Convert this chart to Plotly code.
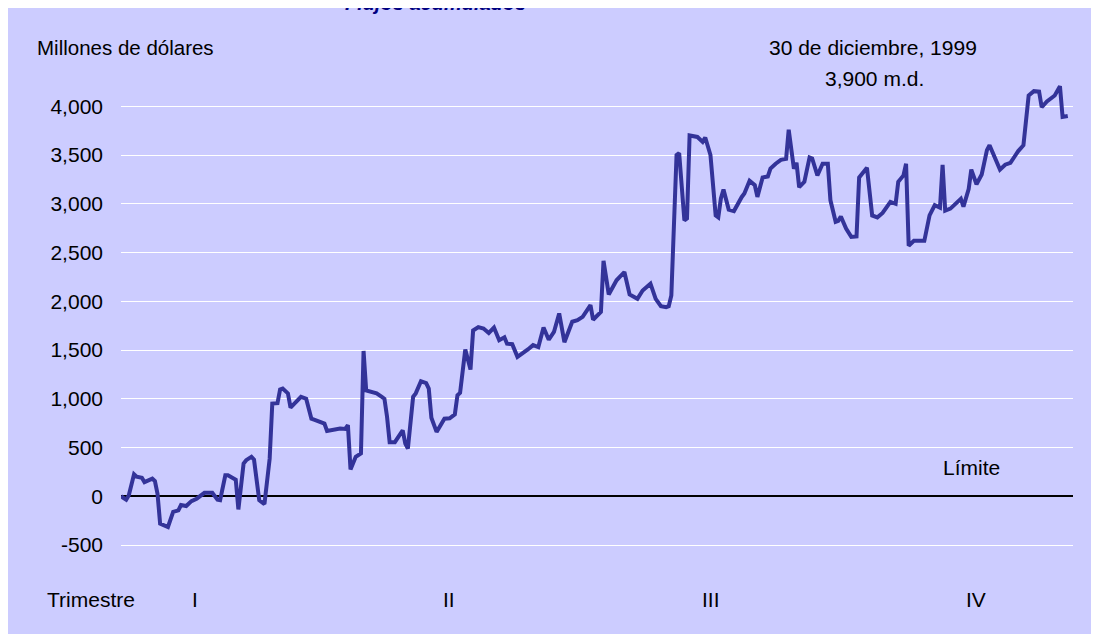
import plotly.graph_objects as go

# dia del año (1999) y saldo acumulado en millones de dolares
dias = [
    0, 2, 3, 5, 6, 8, 9, 12, 13, 14, 15, 18, 20, 22, 23, 25, 27, 29, 32, 35,
    37, 38, 40, 41, 44, 45, 47, 48, 50, 51, 53, 55, 57, 58, 60, 61, 62, 64, 65, 67,
    69, 71, 73, 74, 76, 78, 79, 82, 84, 86, 87, 88, 90, 92, 93, 94, 97, 98, 100, 101,
    102, 103, 105, 106, 108, 109, 110, 112, 113, 115, 117, 118, 119, 121, 122, 124, 126, 128, 129, 130,
    132, 134, 135, 137, 139, 141, 143, 145, 147, 148, 150, 152, 156, 158, 160, 162, 164, 166, 168, 170,
    173, 175, 177, 180, 181, 184, 185, 187, 190, 193, 195, 198, 200, 203, 205, 207, 209, 210, 211, 213,
    214, 216, 217, 218, 221, 223, 224, 226, 228, 229, 230, 231, 233, 235, 238, 239, 241, 243, 244, 246,
    248, 249, 251, 253, 255, 256, 258, 259, 260, 262, 264, 265, 267, 269, 271, 272, 274, 275, 276, 278,
    280, 282, 283, 286, 288, 290, 292, 295, 297, 298, 300, 301, 302, 304, 308, 310, 312, 314, 315, 316,
    318, 320, 322, 323, 325, 326, 328, 330, 332, 333, 336, 337, 339, 341, 343, 344, 346, 348, 350, 352,
    353, 355, 358, 360, 361, 363,
]
saldo = [
    0, -35, 10, 225, 200, 190, 145, 180, 155, 25, -280, -315, -160, -145, -90, -100, -50, -25, 35, 35,
    -35, -40, 215, 215, 170, -135, 335, 370, 405, 375, -40, -80, 385, 950, 955, 1095, 1105, 1055, 910, 965,
    1020, 1000, 795, 785, 760, 745, 670, 685, 695, 690, 730, 275, 405, 440, 1490, 1085, 1070, 1055, 1020, 1000,
    815, 555, 555, 590, 675, 540, 490, 1020, 1055, 1180, 1160, 1105, 805, 660, 710, 795, 800, 840, 1035, 1060,
    1505, 1300, 1700, 1735, 1720, 1675, 1730, 1600, 1630, 1565, 1560, 1430, 1505, 1550, 1530, 1730, 1605, 1685, 1875, 1580,
    1790, 1805, 1840, 1960, 1810, 1890, 2415, 2070, 2215, 2300, 2070, 2025, 2110, 2180, 2025, 1950, 1940, 1950, 2060, 3500,
    3520, 2830, 2850, 3700, 3685, 3635, 3680, 3500, 2880, 2860, 3055, 3145, 2940, 2925, 3070, 3105, 3235, 3190, 3070, 3270,
    3280, 3360, 3410, 3450, 3460, 3760, 3360, 3420, 3170, 3225, 3475, 3465, 3290, 3410, 3410, 3035, 2815, 2825, 2870, 2745,
    2660, 2665, 3270, 3370, 2880, 2860, 2905, 3020, 3000, 3225, 3290, 3410, 2570, 2620, 2620, 2880, 2985, 2960, 3400, 2930,
    2950, 3000, 3050, 2970, 3150, 3350, 3200, 3300, 3550, 3600, 3400, 3350, 3400, 3420, 3500, 3540, 3600, 4110, 4155, 4150,
    3990, 4050, 4110, 4205, 3890, 3900,
]

y_ticks = [-500, 0, 500, 1000, 1500, 2000, 2500, 3000, 3500, 4000]
y_tick_labels = ["-500", "0", "500", "1,000", "1,500", "2,000", "2,500", "3,000", "3,500", "4,000"]
trimestres = ["I", "II", "III", "IV"]
trimestre_x = [0.0777, 0.3445, 0.6197, 0.898]

BG = "#CCCCFF"
LINE = "#333399"
FONT = "Liberation Sans, Arial, sans-serif"

fig = go.Figure(
    go.Scatter(
        x=dias,
        y=saldo,
        mode="lines",
        line=dict(color=LINE, width=4),
        hoverinfo="x+y",
        showlegend=False,
    )
)

txt = dict(family=FONT, size=21, color="black")
notes = [
    dict(text="Millones de dólares", x=-0.0903, y=0.9835, xanchor="left", size=20.5),
    dict(text="30 de diciembre, 1999", x=0.79, y=0.9835, xanchor="center"),
    dict(text="3,900 m.d.", x=0.791, y=0.9267, xanchor="center"),
    dict(text="Límite", x=0.893, y=0.2125, xanchor="center"),
    dict(text="Trimestre", x=-0.0315, y=-0.0293, xanchor="center"),
]
for t, xq in zip(trimestres, trimestre_x):
    notes.append(dict(text=t, x=xq, y=-0.0293, xanchor="center"))
for n in notes:
    f = dict(txt, size=n.pop("size", txt["size"]))
    fig.add_annotation(
        xref="paper", yref="paper", yanchor="middle", showarrow=False, font=f, **n
    )

# titulo cortado en el borde superior, como en el original
fig.add_annotation(
    text="<b><i>Flujos acumulados</i></b>",
    xref="paper", yref="paper", x=0.33, y=1.040,
    xanchor="center", yanchor="bottom", showarrow=False,
    font=dict(family=FONT, size=20, color="#000080"),
)

fig.update_xaxes(
    range=[0, 365], showgrid=False, zeroline=False,
    showticklabels=False, showline=False, fixedrange=True,
)
fig.update_yaxes(
    range=[-900, 4700],
    tickvals=y_ticks, ticktext=y_tick_labels,
    showgrid=True, gridcolor="white", gridwidth=1,
    zeroline=True, zerolinecolor="black", zerolinewidth=2,
    showline=False, ticks="", ticklabelstandoff=17,
    tickfont=dict(family=FONT, size=21, color="black"),
)

# la pagina tiene 8 px de margen en body: la figura ocupa 1091x626
fig.update_layout(
    width=1091, height=626,
    margin=dict(l=113, r=26, t=30, b=50),
    paper_bgcolor=BG,
    plot_bgcolor=BG,
)

fig.write_html("out.html")
